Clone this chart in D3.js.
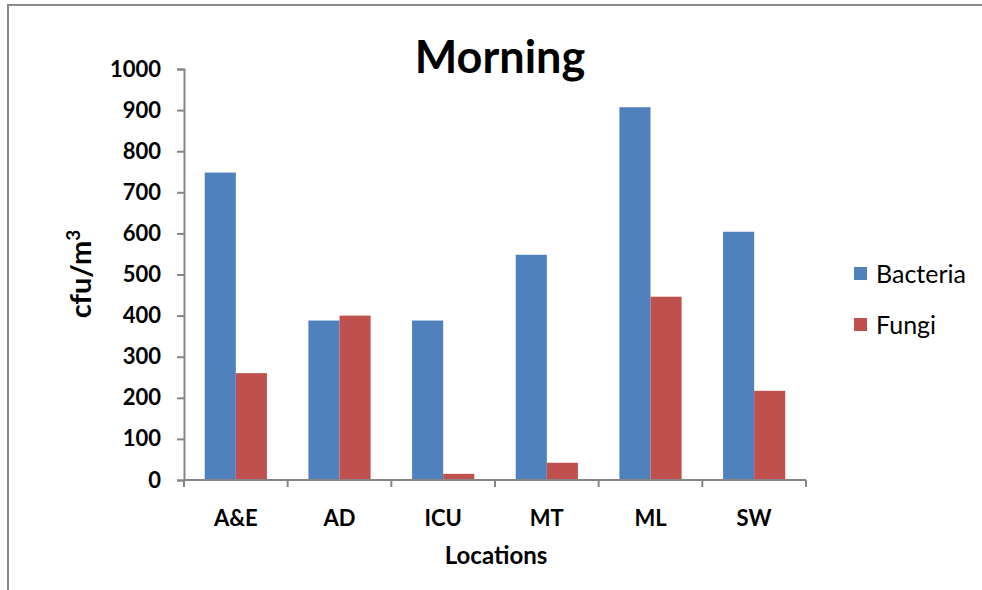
<!DOCTYPE html>
<html>
<head>
<meta charset="utf-8">
<script src="https://cdn.jsdelivr.net/npm/d3@7"></script>
<style>
  body { margin: 0; background: #fff; overflow: hidden; }
  svg { display: block; font-family: Lato, "Open Sans", sans-serif; }
  .axis path, .axis line { stroke: #868686; stroke-width: 2; }
  .axis text { font-family: Lato, "Open Sans", sans-serif; font-weight: bold; font-size: 22px; fill: #000; }
</style>
</head>
<body>
<script>
// values
var locations = ["A&E", "AD", "ICU", "MT", "ML", "SW"],
    seriesNames = ["Bacteria", "Fungi"],
    bacteria = [748, 388, 388, 548, 907, 604],
    fungi = [260, 400, 15, 42, 446, 217],
    yTicks = [0, 100, 200, 300, 400, 500, 600, 700, 800, 900, 1000];

var colors = ["#4F81BD", "#C0504D"];
var W = 982, H = 590,
    plot = {left: 184, right: 806, top: 69, bottom: 480};

var svg = d3.select("body").append("svg")
    .attr("width", W)
    .attr("height", H);

// outer chart frame: only its top and left edges fall inside the picture
svg.append("path")
    .attr("d", `M8,${H}V5H${W}`)
    .attr("fill", "none")
    .attr("stroke", "#898989")
    .attr("stroke-width", 2);

var x = d3.scaleBand().domain(locations)
    .range([plot.left, plot.right])
    .paddingInner(0.4).paddingOuter(0.2);
var xSub = d3.scaleBand().domain(seriesNames).range([0, x.bandwidth()]);
var xEdge = d3.scaleLinear().domain([0, locations.length]).range([plot.left, plot.right]);
var y = d3.scaleLinear().domain([0, 1000]).range([plot.bottom, plot.top]);

var rows = locations.map((loc, i) => ({loc: loc, values: [bacteria[i], fungi[i]]}));

// bars
var groups = svg.append("g").selectAll("g")
    .data(rows).enter().append("g")
    .attr("transform", d => `translate(${x(d.loc)},0)`);
groups.selectAll("rect")
    .data(d => d.values.map((v, j) => ({name: seriesNames[j], v: v, j: j})))
    .enter().append("rect")
    .attr("x", d => xSub(d.name))
    .attr("width", xSub.bandwidth())
    .attr("y", d => y(d.v))
    .attr("height", d => y(0) - y(d.v))
    .attr("fill", d => colors[d.j]);

// y axis
var gy = svg.append("g")
    .attr("class", "axis")
    .attr("transform", `translate(${plot.left},0)`)
    .call(d3.axisLeft(y).tickValues(yTicks).tickFormat(d3.format("d"))
      .tickSize(7).tickSizeOuter(7).tickPadding(16));

// x axis: labels from the band scale, tick marks at category edges
var gx = svg.append("g")
    .attr("class", "axis")
    .attr("transform", `translate(0,${plot.bottom})`)
    .call(d3.axisBottom(x).tickSize(0).tickSizeOuter(0).tickPadding(30));
gx.select(".domain").attr("d", `M${plot.left},0H${plot.right}`);
gx.selectAll(".edge")
    .data(d3.range(locations.length + 1)).enter().append("line")
    .attr("class", "edge")
    .attr("x1", d => xEdge(d)).attr("x2", d => xEdge(d))
    .attr("y1", 0).attr("y2", 7);

// title and axis titles
svg.append("text")
    .text("Morning")
    .attr("x", 500).attr("y", 73)
    .attr("text-anchor", "middle")
    .attr("font-weight", "bold")
    .attr("font-size", 45);

svg.append("text")
    .text("Locations")
    .attr("x", 496).attr("y", 564)
    .attr("text-anchor", "middle")
    .attr("font-weight", "bold")
    .attr("font-size", 24);

var yt = svg.append("text")
    .attr("transform", "translate(91,274) rotate(-90)")
    .attr("text-anchor", "middle")
    .attr("font-weight", "bold")
    .attr("font-size", 29);
yt.append("tspan").text("cfu/m");
yt.append("tspan").text("3").attr("dy", -11).attr("font-size", 19);

// legend
var legend = svg.append("g").selectAll("g")
    .data(seriesNames).enter().append("g")
    .attr("transform", (d, i) => `translate(854,${274 + i * 51})`);
legend.append("rect")
    .attr("x", 0).attr("y", -7)
    .attr("width", 13).attr("height", 13)
    .attr("fill", (d, i) => colors[i]);
legend.append("text")
    .text(d => d)
    .attr("x", 22).attr("y", 0)
    .attr("dy", "0.35em")
    .attr("font-size", 25);
</script>
</body>
</html>
